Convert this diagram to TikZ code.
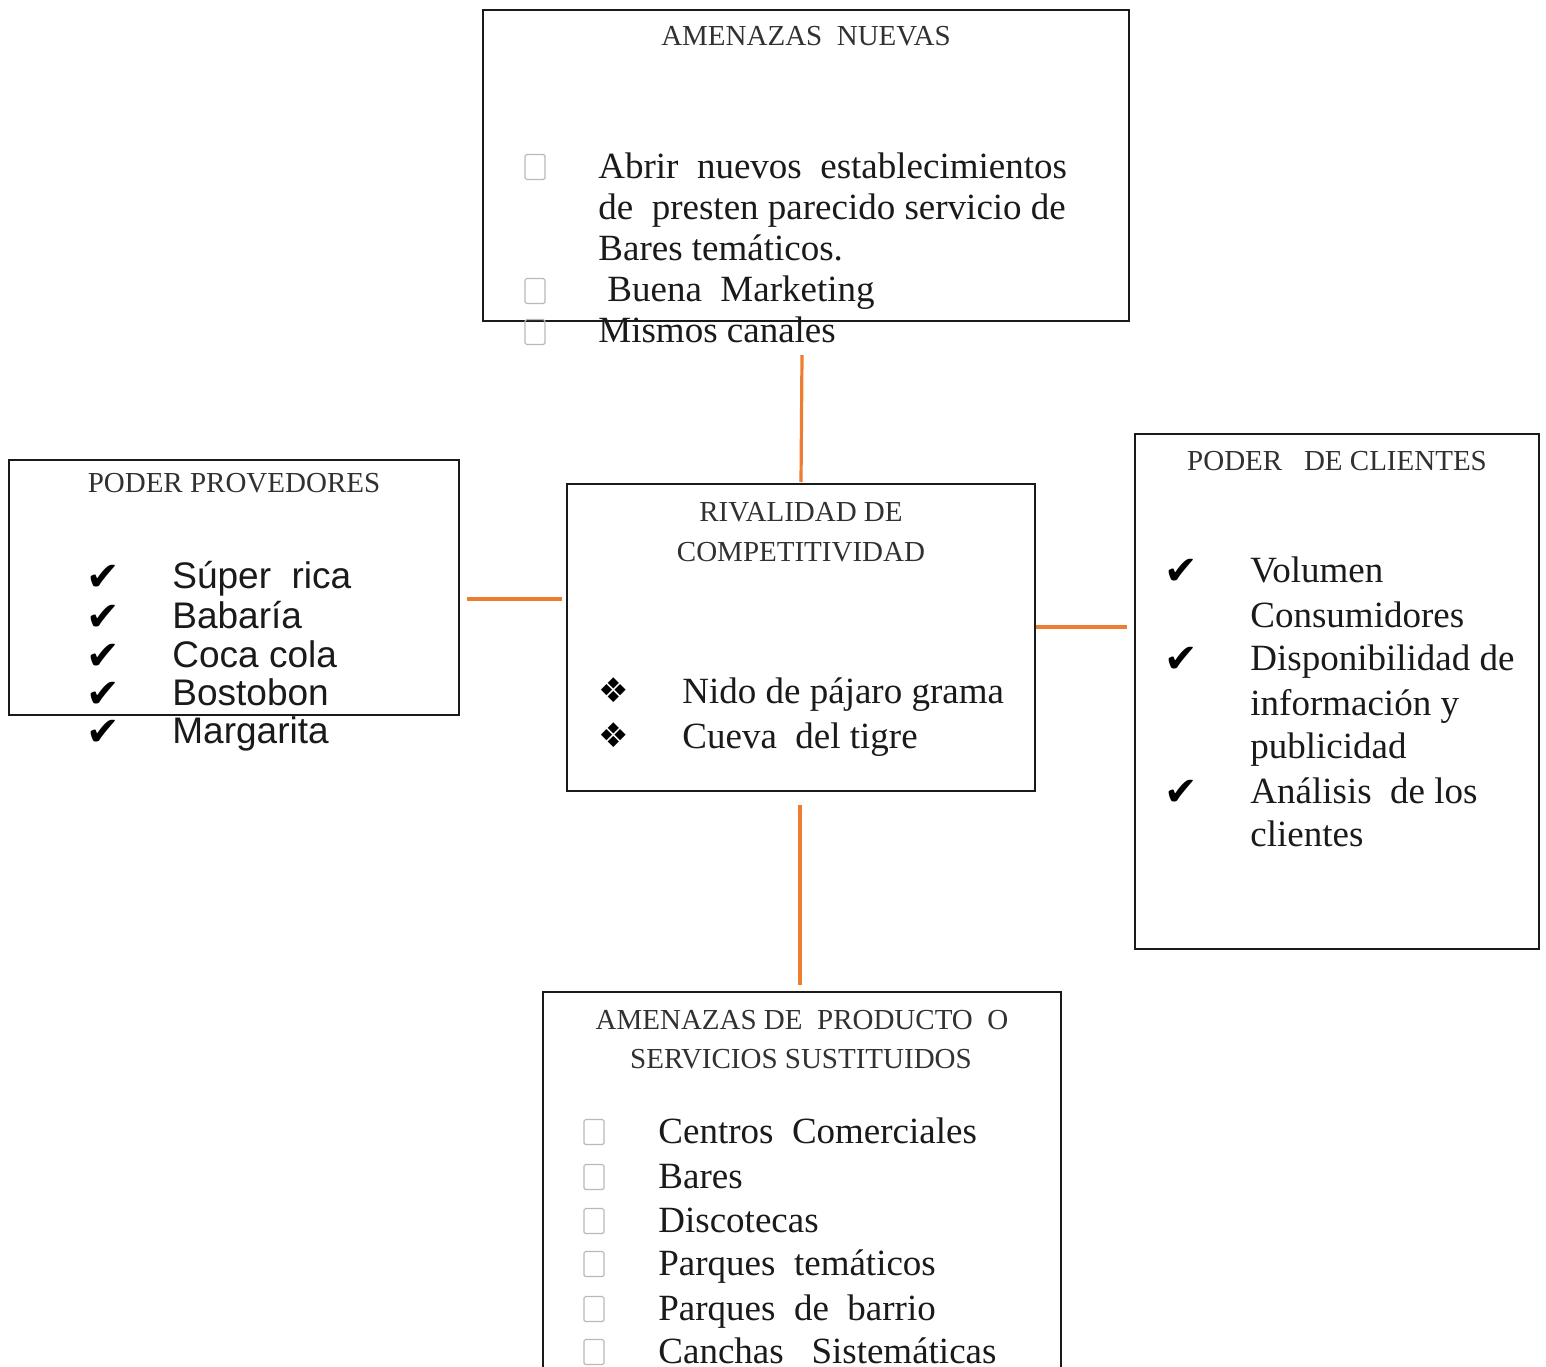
\documentclass[tikz,border=0pt]{standalone}
\usepackage{fontspec}
\setmainfont{Liberation Serif}
\newfontfamily\arialf{Liberation Sans}
\newfontfamily\dejavu{DejaVu Sans}
\definecolor{conn}{HTML}{ED7D31}
\definecolor{ink}{HTML}{1A1A1A}
\begin{document}
\begin{tikzpicture}[x=0.5pt,y=-0.5pt,
  box/.style={draw=ink, line width=1pt, inner sep=0, fill=none},
  tit/.style={font=\fontsize{14.5}{17}\selectfont, text=ink!90, anchor=base, inner sep=0},
  itm/.style={font=\fontsize{18.5}{22}\selectfont, text=ink, anchor=base west, inner sep=0},
  itms/.style={font=\arialf\fontsize{18.5}{22}\selectfont, text=ink, anchor=base west, inner sep=0},
  chk/.style={font=\dejavu\fontsize{20}{22}\selectfont, anchor=base west, inner sep=0},
  dia/.style={font=\dejavu\fontsize{17}{20}\selectfont, anchor=base west, inner sep=0},
  tofu/.style={draw=gray!55, line width=0.6pt, rounded corners=0.8pt, minimum width=10pt, minimum height=12.5pt, inner sep=0},
  link/.style={draw=conn, line width=1.6pt}]
\useasboundingbox (0,0) rectangle (1546,1366);
\fill[white] (0,0) rectangle (1546,1366);

% boxes
\node[box, minimum width=323pt, minimum height=155.5pt] (top) at (806,165.5) {};
\node[box, minimum width=225pt, minimum height=127.5pt] (left) at (234,587.5) {};
\node[box, minimum width=234pt, minimum height=153.5pt] (mid) at (801,637.5) {};
\node[box, minimum width=202pt, minimum height=257.5pt] (right) at (1337,691.5) {};
\node[box, minimum width=259pt, minimum height=204pt] (bot) at (802,1196) {};

% connectors
\coordinate (tA) at (802,355); \coordinate (tB) at (801,482);
\coordinate (lA) at (467,599); \coordinate (lB) at (562,599);
\coordinate (rA) at (1036,627); \coordinate (rB) at (1127,627);
\coordinate (bA) at (800,805); \coordinate (bB) at (800,985);
\draw[link] (tA) -- (tB);
\draw[link] (lA) -- (lB);
\draw[link] (rA) -- (rB);
\draw[link] (bA) -- (bB);

% top box
\node[tit] (tT) at (806,45) {AMENAZAS\ \ NUEVAS};
\node[tofu] (tq1) at (535,167) {};
\node[tofu] (tq2) at (535,291) {};
\node[tofu] (tq3) at (535,332) {};
\node[itm] (t1) at (598,178) {Abrir\ \ nuevos\ \ establecimientos};
\node[itm] (t2) at (598,219) {de\ \ presten parecido servicio de};
\node[itm] (t3) at (598,260) {Bares temáticos.};
\node[itm] (t4) at (607,301) {Buena\ \ Marketing};
\node[itm] (t5) at (598,342) {Mismos canales};

% left box
\node[tit] (lT) at (234,492) {PODER PROVEDORES};
\foreach \y/\t [count=\i] in {588/{Súper\ \ rica},628/{Babaría},667/{Coca cola},705/{Bostobon},743/{Margarita}}{
  \node[chk] (lc\i) at (86,\y+2) {✔};
  \node[itms] (l\i) at (172,\y) {\t};
}

% centre box
\node[tit] (mT1) at (801,521) {RIVALIDAD DE};
\node[tit] (mT2) at (801,561) {COMPETITIVIDAD};
\node[dia] (md1) at (598,702) {❖};
\node[dia] (md2) at (598,747) {❖};
\node[itm] (m1) at (682,703) {Nido de pájaro grama};
\node[itm] (m2) at (682,748) {Cueva\ \ del tigre};

% right box
\node[tit] (rT) at (1337,470) {PODER\ \ \ DE CLIENTES};
\node[chk] (rc1) at (1164,584) {✔};
\node[chk] (rc2) at (1164,672) {✔};
\node[chk] (rc3) at (1164,805) {✔};
\node[itm] (r1) at (1250,582) {Volumen};
\node[itm] (r2) at (1250,627) {Consumidores};
\node[itm] (r3) at (1250,670) {Disponibilidad de};
\node[itm] (r4) at (1250,715) {información y};
\node[itm] (r5) at (1250,758) {publicidad};
\node[itm] (r6) at (1250,803) {Análisis\ \ de los};
\node[itm] (r7) at (1250,846) {clientes};

% bottom box
\node[tit] (bT1) at (802,1029) {AMENAZAS DE\ \ PRODUCTO\ \ O};
\node[tit] (bT2) at (801,1068) {SERVICIOS SUSTITUIDOS};
\foreach \y/\t [count=\i] in {1143/{Centros\ \ Comerciales},1188/{Bares},1232/{Discotecas},1275/{Parques\ \ temáticos},1320/{Parques\ \ de\ \ barrio},1363/{Canchas\ \ \ Sistemáticas}}{
  \node[tofu] (bq\i) at (594,\y-11) {};
  \node[itm] (b\i) at (658,\y) {\t};
}
\end{tikzpicture}
\end{document}
